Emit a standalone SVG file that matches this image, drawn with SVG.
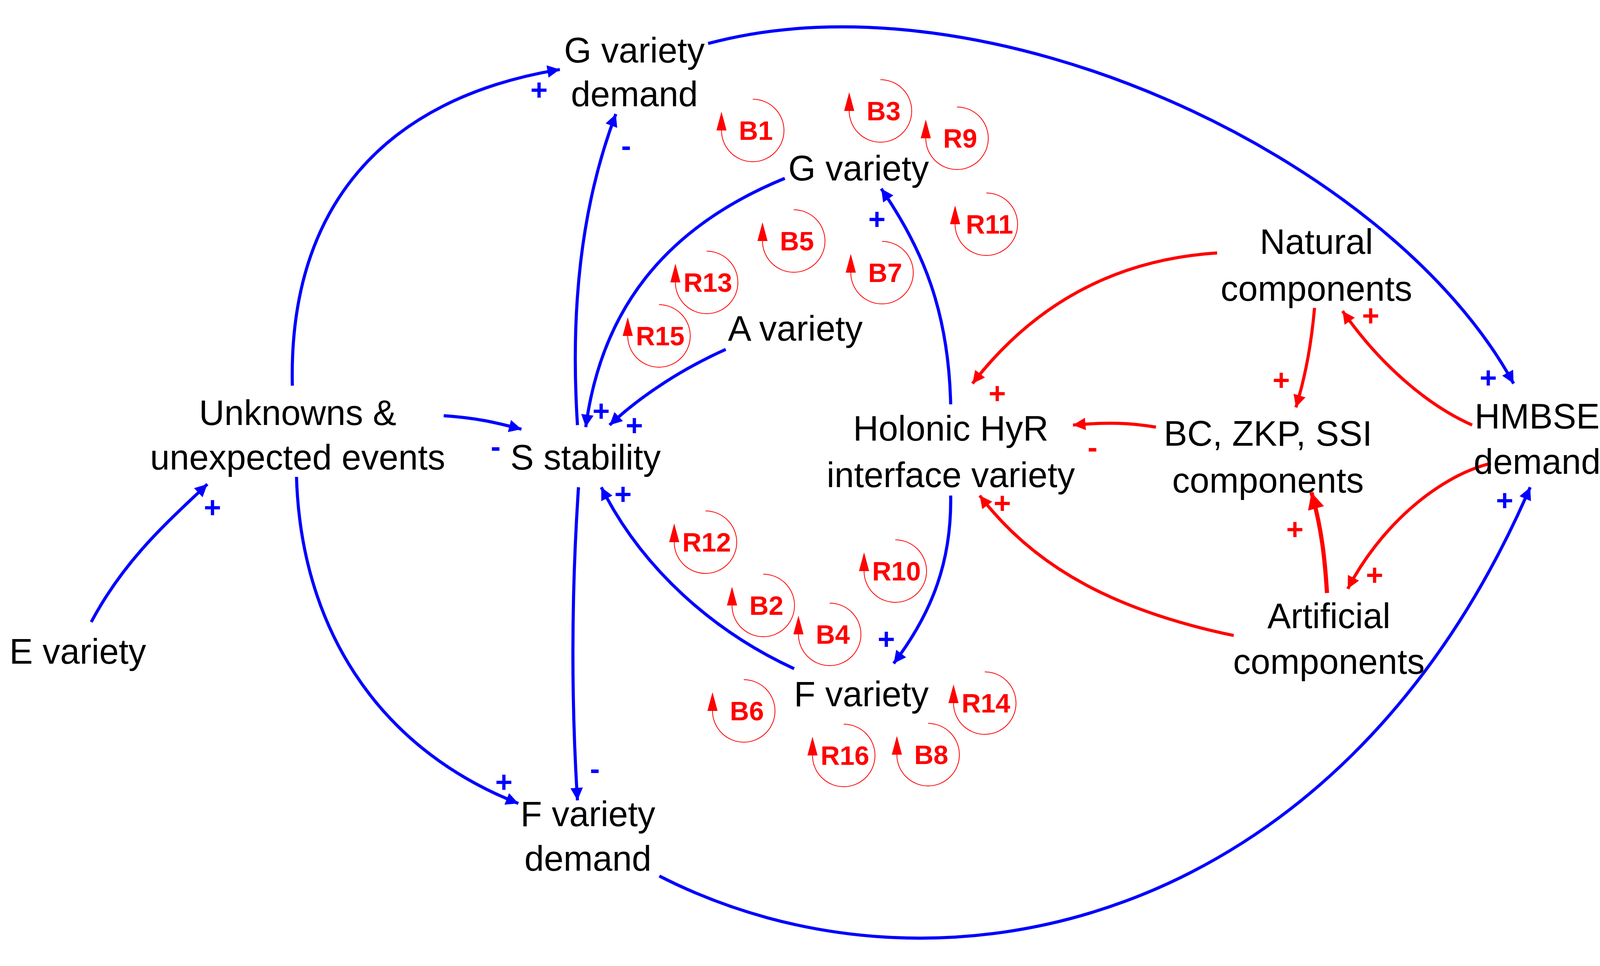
<svg xmlns="http://www.w3.org/2000/svg" width="4161" height="2473" viewBox="0 0 4161 2473">
<style>
.n{font-family:'Liberation Sans',Arimo,Arial,sans-serif;font-size:90px;fill:#000;text-anchor:middle}
.l{font-family:'Liberation Sans',Arial,sans-serif;font-weight:bold;font-size:68px;fill:#f00;text-anchor:middle}
.sb{font-family:'Liberation Sans',Arial,sans-serif;font-weight:bold;font-size:76px;fill:#00f;text-anchor:middle}
.sr{font-family:'Liberation Sans',Arial,sans-serif;font-weight:bold;font-size:76px;fill:#f00;text-anchor:middle}
.b{fill:none;stroke:#00f;stroke-width:3}
.r{fill:none;stroke:#f00;stroke-width:3}
</style>
<defs>
<marker id="ab" viewBox="0 0 10 10" refX="10" refY="5" markerWidth="5" markerHeight="4" orient="auto" markerUnits="strokeWidth"><path d="M0,0L10,5L0,10z" fill="#00f"/></marker>
<marker id="ar" viewBox="0 0 10 10" refX="10" refY="5" markerWidth="5" markerHeight="4" orient="auto" markerUnits="strokeWidth"><path d="M0,0L10,5L0,10z" fill="#f00"/></marker>
<g id="loop"><path d="M0,-80A80,80 0 1 1 -80,0" fill="none" stroke="#f00" stroke-width="2"/><path d="M-80,-48L-93,0L-67,0z" fill="#f00"/></g>
</defs>
<rect width="4161" height="2473" fill="#fff"/>
<g id="connectors" transform="scale(2.654)">
<path class="b" marker-end="url(#ab)" d="M282,372C278,200 370,95 540,67"/>
<path class="b" marker-end="url(#ab)" d="M683,42C950,-30 1340,150 1460,370"/>
<path class="b" marker-end="url(#ab)" d="M557,410C550,300 560,200 594,110"/>
<path class="b" marker-end="url(#ab)" d="M757,172C640,220 580,300 565,412"/>
<path class="b" marker-end="url(#ab)" d="M700,337C660,355 620,380 588,410"/>
<path class="b" marker-end="url(#ab)" d="M917,390C915,300 890,240 850,182"/>
<path class="b" marker-end="url(#ab)" d="M428,401C460,403 480,408 503,414"/>
<path class="b" marker-end="url(#ab)" d="M88,600C120,540 160,505 200,467"/>
<path class="b" marker-end="url(#ab)" d="M286,460C290,600 360,720 500,775"/>
<path class="b" marker-end="url(#ab)" d="M558,470C552,560 550,660 557,772"/>
<path class="b" marker-end="url(#ab)" d="M766,645C690,610 620,550 580,470"/>
<path class="b" marker-end="url(#ab)" d="M917,478C918,540 900,590 862,640"/>
<path class="b" marker-end="url(#ab)" d="M636,845C900,980 1290,900 1476,470"/>
<path class="r" marker-end="url(#ar)" d="M1174,244C1080,250 1000,290 938,370"/>
<path class="r" marker-end="url(#ar)" d="M1268,297C1265,330 1260,360 1250,393"/>
<path class="r" marker-end="url(#ar)" d="M1420,410C1375,390 1330,350 1295,300"/>
<path class="r" marker-end="url(#ar)" d="M1115,412C1090,408 1070,407 1035,410"/>
<path class="r" marker-end="url(#ar)" d="M1280,572C1278,540 1275,510 1265,475" style="stroke-width:4"/>
<path class="r" marker-end="url(#ar)" d="M1438,447C1385,460 1330,510 1300,568"/>
<path class="r" marker-end="url(#ar)" d="M1190,613C1080,590 1000,550 945,478"/>
</g>
<g id="loops">
<use href="#loop" x="1927" y="334"/><text class="l" x="1935" y="358">B1</text>
<use href="#loop" x="2254" y="284"/><text class="l" x="2262" y="308">B3</text>
<use href="#loop" x="2450" y="354"/><text class="l" x="2458" y="378">R9</text>
<use href="#loop" x="2525" y="574"/><text class="l" x="2533" y="598">R11</text>
<use href="#loop" x="2032" y="617"/><text class="l" x="2040" y="641">B5</text>
<use href="#loop" x="2258" y="698"/><text class="l" x="2266" y="722">B7</text>
<use href="#loop" x="1809" y="723"/><text class="l" x="1812" y="747">R13</text>
<use href="#loop" x="1687" y="860"/><text class="l" x="1690" y="884">R15</text>
<use href="#loop" x="1806" y="1388"/><text class="l" x="1809" y="1412">R12</text>
<use href="#loop" x="2292" y="1462"/><text class="l" x="2295" y="1486">R10</text>
<use href="#loop" x="1954" y="1550"/><text class="l" x="1962" y="1574">B2</text>
<use href="#loop" x="2124" y="1624"/><text class="l" x="2132" y="1648">B4</text>
<use href="#loop" x="1904" y="1820"/><text class="l" x="1912" y="1844">B6</text>
<use href="#loop" x="2521" y="1800"/><text class="l" x="2524" y="1824">R14</text>
<use href="#loop" x="2160" y="1934"/><text class="l" x="2163" y="1958">R16</text>
<use href="#loop" x="2376" y="1932"/><text class="l" x="2384" y="1956">B8</text>
</g>
<g id="n-gdemand"><text class="n" x="1624" y="160">G variety</text><text class="n" x="1624" y="272">demand</text></g>
<g id="n-gvariety"><text class="n" x="2198" y="462">G variety</text></g>
<g id="n-avariety"><text class="n" x="2036" y="872">A variety</text></g>
<g id="n-unknowns"><text class="n" x="762" y="1088">Unknowns &amp;</text><text class="n" x="762" y="1202">unexpected events</text></g>
<g id="n-sstability"><text class="n" x="1499" y="1202">S stability</text></g>
<g id="n-evariety"><text class="n" x="199" y="1699">E variety</text></g>
<g id="n-fvariety"><text class="n" x="2205" y="1808">F variety</text></g>
<g id="n-fdemand"><text class="n" x="1505" y="2115">F variety</text><text class="n" x="1505" y="2229">demand</text></g>
<g id="n-holonic"><text class="n" x="2434" y="1128">Holonic HyR</text><text class="n" x="2434" y="1247">interface variety</text></g>
<g id="n-natural"><text class="n" x="3370" y="650">Natural</text><text class="n" x="3370" y="770">components</text></g>
<g id="n-bc"><text class="n" x="3246" y="1141">BC, ZKP, SSI</text><text class="n" x="3246" y="1261">components</text></g>
<g id="n-hmbse"><text class="n" x="3935" y="1097">HMBSE</text><text class="n" x="3935" y="1213">demand</text></g>
<g id="n-artificial"><text class="n" x="3402" y="1608">Artificial</text><text class="n" x="3402" y="1725">components</text></g>
<g id="signs">
<text class="sb" x="1380" y="256">+</text><text class="sb" x="1603" y="399">-</text><text class="sb" x="2245" y="587">+</text>
<text class="sb" x="1539" y="1078">+</text><text class="sb" x="1624" y="1115">+</text><text class="sb" x="1269" y="1169">-</text>
<text class="sb" x="544" y="1325">+</text><text class="sb" x="1595" y="1291">+</text><text class="sb" x="2269" y="1662">+</text>
<text class="sb" x="1290" y="2028">+</text><text class="sb" x="1523" y="1994">-</text><text class="sb" x="3810" y="993">+</text>
<text class="sb" x="3852" y="1307">+</text>
<text class="sr" x="2553" y="1033">+</text><text class="sr" x="3280" y="999">+</text><text class="sr" x="3509" y="834">+</text>
<text class="sr" x="2797" y="1171">-</text><text class="sr" x="2566" y="1314">+</text><text class="sr" x="3315" y="1381">+</text>
<text class="sr" x="3519" y="1498">+</text>
</g>
</svg>
